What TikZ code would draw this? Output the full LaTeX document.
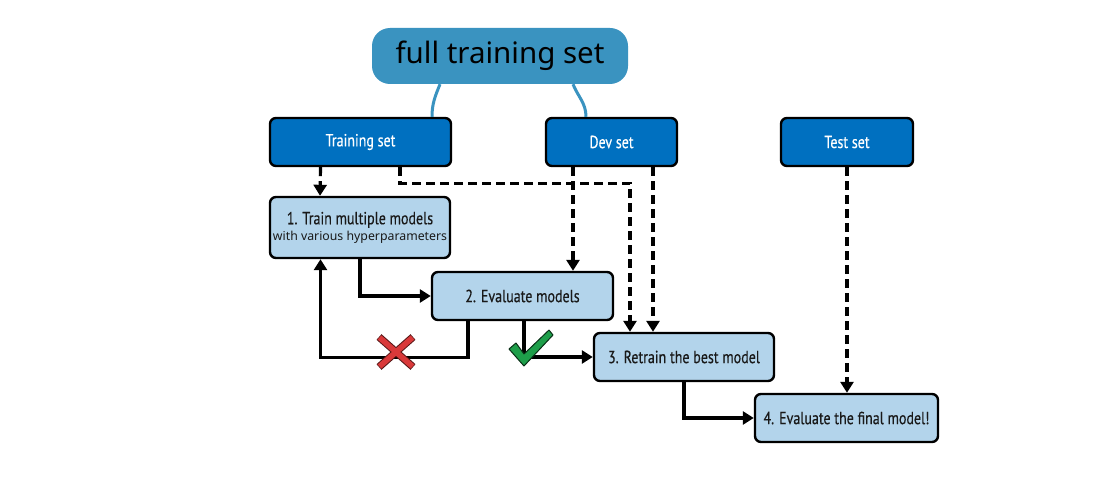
\documentclass[tikz,border=0pt]{standalone}
\usepackage{fontspec}
\setmainfont{PT Sans}
\newfontfamily\cond[FakeStretch=0.8, FakeBold=0.4]{PT Sans}
\newfontfamily\seg{Noto Sans}
\usetikzlibrary{arrows.meta}
\definecolor{darkblue}{HTML}{0070C0}
\definecolor{lightblue}{HTML}{B3D4EB}
\definecolor{teal}{HTML}{3A93C0}
\definecolor{crossred}{HTML}{D9393A}
\definecolor{tickgreen}{HTML}{1E9E4A}
\begin{document}
\begin{tikzpicture}[x=1pt, y=-1pt,
    set/.style = {draw, line width=2.4pt, rounded corners=6pt, fill=darkblue, text=white, minimum height=48pt, font=\cond\fontsize{17.5}{19}\selectfont},
    stepbox/.style = {draw, line width=2.4pt, rounded corners=6pt, fill=lightblue, text=black!90, minimum height=48pt, font=\cond\fontsize{17.5}{19}\selectfont},
    dsh/.style = {line width=3.2pt, dash pattern=on 9pt off 5pt, -{Triangle[width=13pt,length=11pt]}},
    sol/.style = {line width=3.2pt, -{Triangle[width=13pt,length=11pt]}}]
    \useasboundingbox (0,0) rectangle (1096,492);
    % data sets
    \node[fill=teal, rounded corners=18pt, minimum width=256pt, minimum height=56pt, font=\seg\fontsize{29.5}{32}\selectfont] (full) at (500,56) {full training set};
    \node[set, minimum width=181pt] (train) at (360.5,142) {Training set};
    \node[set, minimum width=131pt] (dev) at (611.5,142) {Dev set};
    \node[set, minimum width=132pt] (test) at (847,142) {Test set};
    % steps
    \node[stepbox, minimum width=180pt, minimum height=61pt, align=center, inner sep=1pt] (1) at (360,227.5) {1. Train multiple models\\[-3pt]{\seg\fontsize{12.3}{14}\selectfont with various hyperparameters}};
    \node[stepbox, minimum width=181pt] (2) at (522.5,296) {2. Evaluate models};
    \node[stepbox, minimum width=180pt] (3) at (684,357) {3. Retrain the best model};
    \node[stepbox, minimum width=183pt] (4) at (846.5,418) {4. Evaluate the final model!};
    % braces of the full set
    \draw[teal, line width=3pt] ([xshift=-60pt]full.south) to[out=-112, in=90] ([xshift=71.5pt]train.north);
    \draw[teal, line width=3pt] ([xshift=73pt]full.south) to[out=-68, in=90] ([xshift=-25.5pt]dev.north);
    % data flow
    \draw[dsh] ([xshift=-40pt]train.south) -- ([xshift=-40pt]1.north);
    \draw[dsh] ([xshift=39.5pt]train.south) -- ++(0,16) -| ([xshift=-54pt]3.north);
    \draw[dsh] ([xshift=-38.5pt]dev.south) -- ([xshift=50.5pt]2.north);
    \draw[dsh] ([xshift=41.5pt]dev.south) -- ([xshift=-31pt]3.north);
    \draw[dsh] (test.south) -- (test.south |- 4.north);
    \draw[sol] (1.south) |- (2.west);
    \draw[sol] ([xshift=-54.5pt]2.south) -- ++(0,36) -| ([xshift=-39.5pt]1.south);
    \draw[sol] ([xshift=1.5pt]2.south) |- (3.west);
    \draw[sol] (3.south) |- (4.west);
    % cross and tick
    \draw[line width=7.5pt, black!60!crossred] (379,337) -- (413,367) (379,367) -- (413,337);
    \draw[line width=5.5pt, crossred] (379.5,337.5) -- (412.5,366.5) (379.5,366.5) -- (412.5,337.5);
    \filldraw[fill=tickgreen, draw=black!70!tickgreen, line width=1pt, line join=round] (509,349) -- (516,343) -- (524,354) -- (549,330) -- (553,335) -- (524,366) -- cycle;
\end{tikzpicture}
\end{document}
